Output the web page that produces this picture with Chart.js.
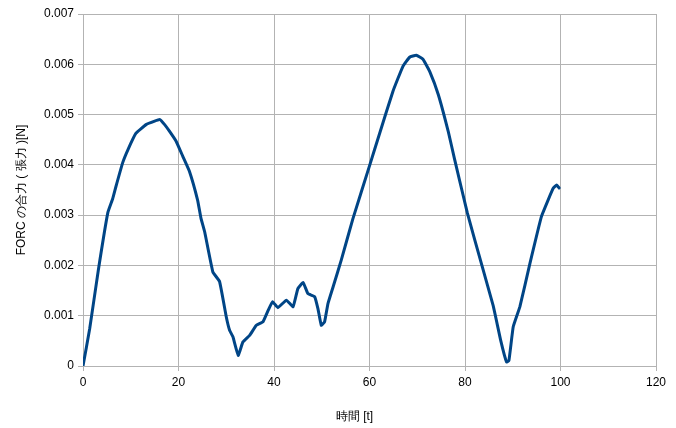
<!DOCTYPE html>
<html>
<head>
<meta charset="utf-8">
<script src="https://cdn.jsdelivr.net/npm/chart.js@4/dist/chart.umd.min.js"></script>
<style>
  html, body { margin: 0; padding: 0; background: #fff; }
  #wrap { width: 676px; height: 428px; }
</style>
</head>
<body>
<div id="wrap"><canvas id="forceChart" width="676" height="428"></canvas></div>
<script>
// time values [t]
const times = [
  0, 1.4, 3.2, 5.2, 6.2, 6.9, 8.3, 9.4, 11.1, 13.2, 15.0, 16.1, 17.1, 18.1, 19.5,
  20.9, 22.3, 24.0, 24.7, 25.5, 27.2, 28.6, 30.0, 30.7, 31.4, 32.5, 33.5, 34.9, 36.3,
  37.7, 38.8, 39.7, 40.8, 42.6, 44.0, 45.0, 46.1, 47.1, 48.5, 49.2, 49.9, 50.6, 51.3,
  52.4, 54.1, 56.5, 60.0, 62.1, 64.9, 67.0, 68.4, 69.8, 71.2, 72.6, 74.4, 76.5, 77.8,
  80.5, 83.6, 85.9, 87.5, 88.7, 89.2, 90.1, 91.5, 93.6, 96.0, 97.4, 98.5, 99.2, 99.7
];
// resultant force (tension) [N]
const forces = [
  0, 0.00074, 0.00190, 0.00305, 0.00332, 0.00357, 0.00404, 0.00430, 0.00463,
  0.00480, 0.00487, 0.00490, 0.00480, 0.00467, 0.00447, 0.00417, 0.00387, 0.00330,
  0.00294, 0.00266, 0.00187, 0.00168, 0.00098, 0.00071, 0.00058, 0.00021, 0.00048,
  0.00061, 0.00081, 0.00088, 0.00111, 0.00128, 0.00116, 0.00131, 0.00118, 0.00154,
  0.00166, 0.00144, 0.00138, 0.00114, 0.00081, 0.00088, 0.00124, 0.00158, 0.00211,
  0.00292, 0.00398, 0.00462, 0.00546, 0.00596, 0.00614, 0.00618, 0.00610, 0.00586,
  0.00540, 0.00466, 0.00412, 0.00304, 0.00198, 0.00120, 0.00050, 0.00008, 0.00011,
  0.00078, 0.00118, 0.00204, 0.00297, 0.00330, 0.00354, 0.00360, 0.00354
];
const xTicks = [0, 20, 40, 60, 80, 100, 120];
const yTicks = [0, 0.001, 0.002, 0.003, 0.004, 0.005, 0.006, 0.007];

const points = times.map((t, i) => ({ x: t, y: forces[i] }));

const gridColor = '#b3b3b3';
const textColor = '#000000';
const font = { family: '"Liberation Sans", Arial, sans-serif', size: 12 };

const ctx = document.getElementById('forceChart').getContext('2d');
new Chart(ctx, {
  type: 'scatter',
  data: {
    datasets: [{
      data: points,
      showLine: true,
      borderColor: '#004586',
      backgroundColor: '#004586',
      borderWidth: 3,
      pointRadius: 0,
      tension: 0.1,
      borderJoinStyle: 'round',
      borderCapStyle: 'round'
    }]
  },
  options: {
    responsive: false,
    animation: false,
    layout: { padding: { top: 14, right: 20, left: 0, bottom: 0 } },
    plugins: { legend: { display: false }, tooltip: { enabled: false } },
    scales: {
      x: {
        type: 'linear',
        min: 0,
        max: 120,
        afterBuildTicks: axis => { axis.ticks = xTicks.map(v => ({ value: v })); },
        afterFit: axis => { axis.height = 62; },
        grid: { color: gridColor, tickLength: 5, drawTicks: true },
        border: { color: gridColor },
        ticks: { color: textColor, font: font, padding: 4 },
        // trailing spaces shift the centred title a little left, as in the original
        title: { display: true, text: '時間 [t]' + '\u00a0'.repeat(9), color: textColor, font: font, padding: { top: 4 } }
      },
      y: {
        min: 0,
        max: 0.007,
        afterBuildTicks: axis => { axis.ticks = yTicks.map(v => ({ value: v })); },
        afterFit: axis => { axis.width = 83; },
        grid: { color: gridColor, tickLength: 5 },
        border: { color: gridColor },
        ticks: { color: textColor, font: font, padding: 4, callback: v => String(v) },
        title: { display: true, text: 'FORC の合力 ( 張力 )[N]', color: textColor, font: font, padding: { top: 14, bottom: 4 } }
      }
    }
  }
});
</script>
</body>
</html>
